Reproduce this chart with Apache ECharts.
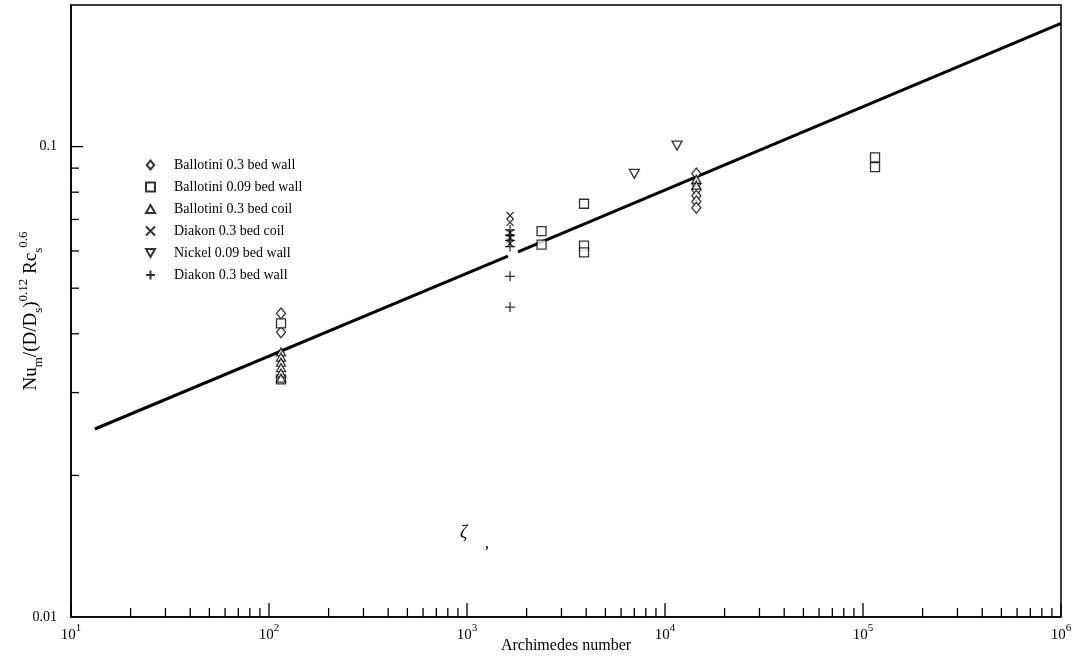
<!DOCTYPE html>
<html>
<head>
<meta charset="utf-8">
<script src="https://cdn.jsdelivr.net/npm/echarts@6/dist/echarts.min.js"></script>
<style>
  html, body { margin: 0; padding: 0; background: #fff; }
  #main { width: 1086px; height: 657px; }
</style>
</head>
<body>
<div id="main"></div>
<script>
// values: [Archimedes number, Nu_m/(D/Ds)^0.12 Rc_s^0.6]
const ballotini03Wall = [[115, 0.0442], [115, 0.0403],
  [14400, 0.0877], [14400, 0.0834], [14400, 0.0809], [14400, 0.0786], [14400, 0.0764], [14400, 0.0741]];
const ballotini009Wall = [[115, 0.0421], [115, 0.0320],
  [2380, 0.0661], [2380, 0.0619], [3900, 0.0756], [3900, 0.0616], [3900, 0.0596],
  [115000, 0.0949], [115000, 0.0904]];
const ballotini03Coil = [[115, 0.0366], [115, 0.0357], [115, 0.0348], [115, 0.0339], [115, 0.0330], [115, 0.0322],
  [14400, 0.0852], [14400, 0.0828]];
const diakon03Coil = [[1650, 0.0714], [1650, 0.0690], [1650, 0.0655], [1650, 0.0640], [1650, 0.0622]];
const nickel009Wall = [[7000, 0.0875], [11500, 0.1005]];
const diakon03Wall = [[1650, 0.0665], [1650, 0.0648], [1650, 0.0632], [1650, 0.0613], [1650, 0.0530], [1650, 0.0456]];

// correlation line, drawn in two pieces (there is a break near 1.6e3)
const fitLeft = [[13.2, 0.0251], [1610, 0.0585]];
const fitRight = [[1810, 0.0597], [1000000, 0.1827]];

const xMin = 10, xMax = 1000000;
const yMin = 0.01, yMax = 0.2;
const xDecades = [10, 100, 1000, 10000, 100000, 1000000];
const yDecades = [0.01, 0.1];

const serif = '"Liberation Serif", "DejaVu Serif", serif';

// tick marks: [value, other-axis value, length]
const xTicks = [];
xDecades.forEach(d => {
  xTicks.push([d, yMin, 14]);
  if (d < xMax) for (let k = 2; k <= 9; k++) xTicks.push([d * k, yMin, 9]);
});
const yTicks = [];
yDecades.forEach(d => {
  if (d > yMin) yTicks.push([xMin, d, 12]);
  for (let k = 2; k <= 9; k++) if (d * k < yMax) yTicks.push([xMin, d * k, 8]);
});

const icons = {
  diamond: 'path://M5 0 L10 6 L5 12 L0 6 Z',
  square: 'path://M0 0 L10 0 L10 10 L0 10 Z',
  triangle: 'path://M5 0 L10 9 L0 9 Z',
  cross: 'path://M0 0 L10 10 M10 0 L0 10',
  down: 'path://M0 0 L10 0 L5 9 Z',
  plus: 'path://M5 0 L5 10 M0 5 L10 5'
};

function scatter(name, data, symbol, size) {
  return {
    name: name, type: 'scatter', data: data,
    symbol: symbol, symbolSize: size,
    itemStyle: { color: '#fff', borderColor: '#000', borderWidth: 1.3 },
    emphasis: { disabled: true },
    z: 3
  };
}

function fitLine(data) {
  return {
    type: 'line', data: data, showSymbol: false, silent: true,
    lineStyle: { color: '#000', width: 3 }, z: 2
  };
}

function isDecade(v) {
  const e = Math.log10(v);
  return Math.abs(e - Math.round(e)) < 1e-6;
}

var chart = echarts.init(document.getElementById('main'));

const option = {
  backgroundColor: '#fff',
  animation: false,
  textStyle: { fontFamily: serif, color: '#000' },
  grid: {
    left: 71, right: 25, top: 5, bottom: 40,
    containLabel: false, outerBoundsMode: 'none',
    show: true, borderColor: '#000', borderWidth: 1.5
  },
  legend: {
    orient: 'vertical', left: 140, top: 153,
    itemWidth: 9, itemHeight: 9, itemGap: 8,
    textStyle: { fontFamily: serif, fontSize: 14, color: '#000', padding: [0, 0, 0, 14] },
    data: ['Ballotini 0.3 bed wall', 'Ballotini 0.09 bed wall', 'Ballotini 0.3 bed coil',
      'Diakon 0.3 bed coil', 'Nickel 0.09 bed wall', 'Diakon 0.3 bed wall']
  },
  xAxis: {
    type: 'log', logBase: 10, min: xMin, max: xMax,
    name: 'Archimedes number', nameLocation: 'middle', nameGap: 21, nameMoveOverlap: false,
    nameTextStyle: { fontFamily: serif, fontSize: 16, color: '#000', verticalAlign: 'top' },
    axisLine: { show: true, lineStyle: { color: '#000', width: 1.5 } },
    axisTick: { show: false },
    splitLine: { show: false },
    axisLabel: {
      margin: 6,
      formatter: v => isDecade(v) ? '{b|10}{s|' + Math.round(Math.log10(v)) + '}' : '',
      rich: {
        b: { fontFamily: serif, fontSize: 15, color: '#000', lineHeight: 20, verticalAlign: 'bottom' },
        s: { fontFamily: serif, fontSize: 11, color: '#000', lineHeight: 12, verticalAlign: 'top' }
      }
    }
  },
  yAxis: {
    type: 'log', logBase: 10, min: yMin, max: yMax,
    name: '{n|Nu}{sub|m}{n|/(D/D}{sub|s}{n|)}{sup|0.12}{n| Rc}{sub|s}{sup|0.6}',
    nameLocation: 'middle', nameGap: 26, nameRotate: 90, nameMoveOverlap: false,
    nameTextStyle: {
      rich: {
        n: { fontFamily: serif, fontSize: 19, color: '#000', lineHeight: 28, verticalAlign: 'middle' },
        sub: { fontFamily: serif, fontSize: 13, color: '#000', lineHeight: 13, verticalAlign: 'bottom' },
        sup: { fontFamily: serif, fontSize: 13, color: '#000', lineHeight: 13, verticalAlign: 'top' }
      }
    },
    axisLine: { show: true, lineStyle: { color: '#000', width: 1.5 } },
    axisTick: { show: false },
    splitLine: { show: false },
    axisLabel: {
      margin: 14, fontFamily: serif, fontSize: 14, color: '#000',
      showMaxLabel: false,
      formatter: v => isDecade(v) ? String(+v.toPrecision(3)) : ''
    }
  },
  graphic: [
    { type: 'text', left: 460, top: 524, style: { text: 'ζ', font: 'italic 18px ' + serif, fill: '#000' } },
    { type: 'text', left: 485, top: 536, style: { text: ',', font: '16px ' + serif, fill: '#000' } }
  ],
  series: [
    fitLine(fitLeft),
    fitLine(fitRight),
    scatter('Ballotini 0.3 bed wall', ballotini03Wall, icons.diamond, [9, 11]),
    scatter('Ballotini 0.09 bed wall', ballotini009Wall, icons.square, [9, 9]),
    scatter('Ballotini 0.3 bed coil', ballotini03Coil, icons.triangle, [9, 8]),
    scatter('Diakon 0.3 bed coil', diakon03Coil, icons.cross, [7, 7]),
    scatter('Nickel 0.09 bed wall', nickel009Wall, icons.down, [10, 9]),
    scatter('Diakon 0.3 bed wall', diakon03Wall, icons.plus, [10, 10]),
    {
      type: 'custom', data: xTicks, silent: true, clip: false, z: 4,
      renderItem: (params, api) => {
        const p = api.coord([api.value(0), api.value(1)]);
        return { type: 'line', shape: { x1: p[0], y1: p[1], x2: p[0], y2: p[1] - api.value(2) },
          style: { stroke: '#000', lineWidth: 1.3 } };
      }
    },
    {
      type: 'custom', data: yTicks, silent: true, clip: false, z: 4,
      renderItem: (params, api) => {
        const p = api.coord([api.value(0), api.value(1)]);
        return { type: 'line', shape: { x1: p[0], y1: p[1], x2: p[0] + api.value(2), y2: p[1] },
          style: { stroke: '#000', lineWidth: 1.3 } };
      }
    }
  ]
};

chart.setOption(option);
</script>
</body>
</html>
